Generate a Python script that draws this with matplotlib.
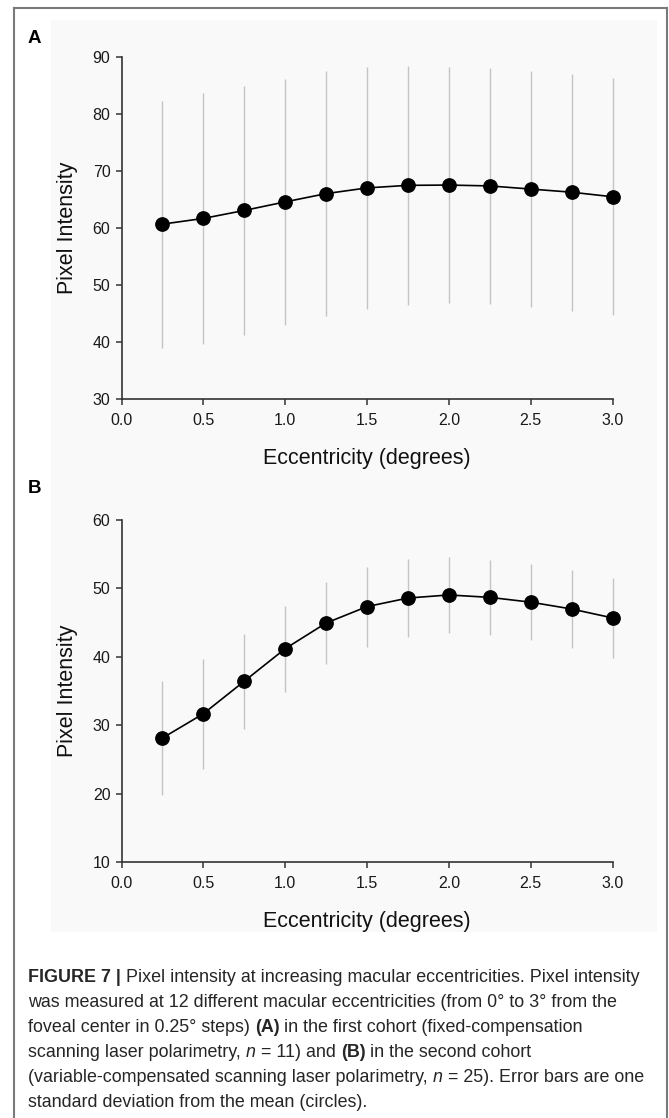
import matplotlib
matplotlib.use("Agg")
import matplotlib.pyplot as plt
from matplotlib.lines import Line2D
from matplotlib.patches import Rectangle

plt.rcParams['font.family'] = ['Liberation Sans', 'DejaVu Sans']

# ---------------- data ----------------
ecc = [0.25, 0.5, 0.75, 1.0, 1.25, 1.5, 1.75, 2.0, 2.25, 2.5, 2.75, 3.0]

mean_a = [60.65, 61.65, 63.05, 64.55, 66.0, 67.0, 67.45, 67.5, 67.35, 66.8, 66.25, 65.45]
sd_a = [21.65, 22.0, 21.85, 21.6, 21.45, 21.2, 20.95, 20.7, 20.65, 20.7, 20.75, 20.75]

mean_b = [28.15, 31.7, 36.45, 41.2, 44.95, 47.35, 48.6, 49.05, 48.7, 48.0, 47.0, 45.7]
sd_b = [8.35, 8.0, 6.95, 6.3, 5.95, 5.85, 5.7, 5.55, 5.5, 5.6, 5.7, 5.8]

xticks = [0.0, 0.5, 1.0, 1.5, 2.0, 2.5, 3.0]
yticks_a = [30, 40, 50, 60, 70, 80, 90]
yticks_b = [10, 20, 30, 40, 50, 60]

xlabel = "Eccentricity (degrees)"
ylabel = "Pixel Intensity"

caption_lines = [
    [("FIGURE 7 | ", "bold"), ("Pixel intensity at increasing macular eccentricities. Pixel intensity", "normal")],
    [("was measured at 12 different macular eccentricities (from 0\u00b0 to 3\u00b0 from the", "normal")],
    [("foveal center in 0.25\u00b0 steps) ", "normal"), ("(A)", "bold"), (" in the first cohort (fixed-compensation", "normal")],
    [("scanning laser polarimetry, ", "normal"), ("n", "italic"), (" = 11) and ", "normal"), ("(B)", "bold"), (" in the second cohort", "normal")],
    [("(variable-compensated scanning laser polarimetry, ", "normal"), ("n", "italic"), (" = 25). Error bars are one", "normal")],
    [("standard deviation from the mean (circles).", "normal")],
]

# ---------------- figure ----------------
W, H = 669, 1118
fig = plt.figure(figsize=(W / 100, H / 100), dpi=100)
fig.patch.set_facecolor("white")


def fx(px):
    return px / W


def fy(py):
    return 1 - py / H


# light background of the chart image
bg = Rectangle((fx(51), fy(932)), fx(657) - fx(51), fy(20) - fy(932),
               transform=fig.transFigure, facecolor="#f9f9f9",
               edgecolor="none", zorder=-10)
fig.patches.append(bg)
# outer frame (left, top, right)
frame_kw = dict(transform=fig.transFigure, color="#7a7a7a", linewidth=1.5, zorder=5)
fig.lines.append(Line2D([fx(14), fx(14)], [fy(8), 0], **frame_kw))
fig.lines.append(Line2D([fx(14), fx(667)], [fy(8), fy(8)], **frame_kw))
fig.lines.append(Line2D([fx(667), fx(667)], [fy(8), 0], **frame_kw))

x0, x1 = 121.5, 612.5


def make_axes(top, bottom, mean, sd, yticks, ylim):
    ax = fig.add_axes([fx(x0), fy(bottom), fx(x1) - fx(x0), fy(top) - fy(bottom)])
    ax.set_zorder(2)
    ax.set_facecolor("none")
    eb = ax.errorbar(ecc, mean, yerr=sd, fmt="none", ecolor="#c4c4c4", elinewidth=1.0,
                     capsize=0, zorder=1)
    for coll in eb.lines[2]:
        coll.set_clip_on(False)
    ax.plot(ecc, mean, color="black", linewidth=1.2, marker="o", markersize=9.6,
            markerfacecolor="black", markeredgecolor="black", zorder=3, clip_on=False)
    ax.set_xlim(0, 3)
    ax.set_ylim(*ylim)
    ax.set_xticks(xticks)
    ax.set_xticklabels([f"{v:.1f}" for v in xticks])
    ax.set_yticks(yticks)
    ax.set_yticklabels([str(v) for v in yticks])
    for s in ("top", "right"):
        ax.spines[s].set_visible(False)
    for s in ("left", "bottom"):
        ax.spines[s].set_color("#333333")
        ax.spines[s].set_linewidth(1.2)
    ax.tick_params(axis="both", direction="out", length=4, width=1.1, color="#333333",
                   labelsize=11.5, labelcolor="#1a1a1a")
    ax.tick_params(axis="y", pad=4)
    ax.tick_params(axis="x", pad=6)
    ax.set_xlabel(xlabel, fontsize=15.5, color="#111111")
    ax.set_ylabel(ylabel, fontsize=15.5, color="#111111")
    ax.xaxis.set_label_coords(0.5, -0.19)
    ax.xaxis.label.set_va("baseline")
    ax.yaxis.set_label_coords((67 - x0) / (x1 - x0), 0.5)
    ax.yaxis.label.set_va("center")
    ax.yaxis.label.set_ha("center")
    return ax


ax_a = make_axes(56.7, 399.0, mean_a, sd_a, yticks_a, (30, 90))
ax_b = make_axes(520.0, 862.3, mean_b, sd_b, yticks_b, (10, 60))

# panel letters
fig.text(fx(28), fy(43), "A", fontsize=13.5, fontweight="bold", ha="left", va="baseline")
fig.text(fx(28), fy(493), "B", fontsize=13.5, fontweight="bold", ha="left", va="baseline")

# ---------------- caption ----------------
renderer = fig.canvas.get_renderer()
cap_size = 12.9
cap_color = "#262626"


def style_kw(style):
    if style == "bold":
        return dict(fontweight="bold")
    if style == "italic":
        return dict(fontstyle="italic")
    return {}


def text_width(s, style):
    t = fig.text(0, 0, s, fontsize=cap_size, **style_kw(style))
    w = t.get_window_extent(renderer).width
    t.remove()
    return w


space_w = text_width("a a", "normal") - text_width("aa", "normal")

base_y = 982.0
line_gap = 25.0
for i, runs in enumerate(caption_lines):
    x = 28.0
    y = base_y + i * line_gap
    for txt, style in runs:
        lead = len(txt) - len(txt.lstrip(" "))
        trail = len(txt) - len(txt.rstrip(" "))
        core = txt.strip(" ")
        x += lead * space_w
        t = fig.text(fx(x), fy(y), core, fontsize=cap_size, color=cap_color,
                     ha="left", va="baseline", **style_kw(style))
        x += t.get_window_extent(renderer).width
        x += trail * space_w

fig.savefig("out.png", dpi=100)
